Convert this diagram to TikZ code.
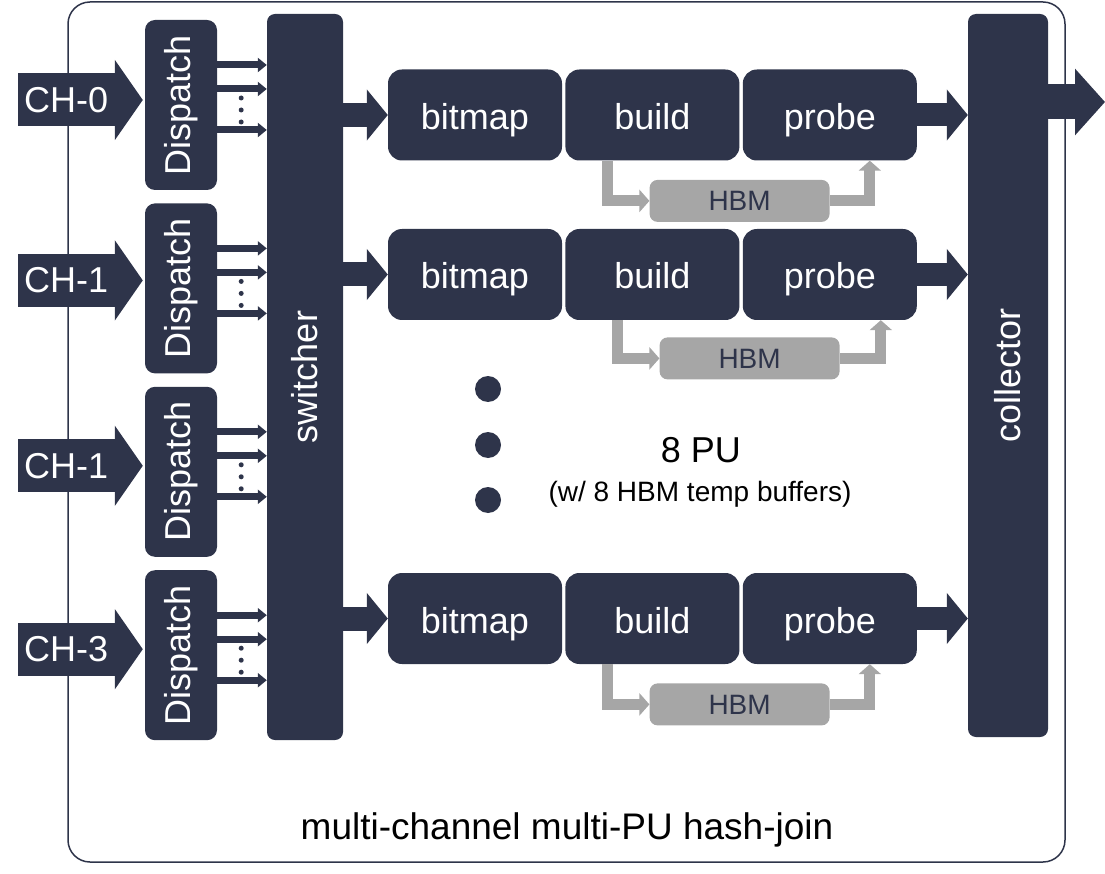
\documentclass[tikz,border=0pt]{standalone}
\usepackage{fontspec}
\setmainfont{Liberation Sans}
\usetikzlibrary{arrows.meta,positioning,calc}
\definecolor{navy}{RGB}{46,52,74}
\definecolor{hbmgray}{RGB}{166,166,166}
\newcommand{\setfs}[1]{\fontsize{#1}{#1}\selectfont}

\begin{document}
\begin{tikzpicture}[x=1pt,y=-1pt,node distance=3pt,
  darkbox/.style={fill=navy,text=white,inner sep=0pt},
  rotlabel/.style={rotate=90,text=white,font=\setfs{36}},
  dispbox/.style={darkbox,rounded corners=10pt,minimum width=72pt,minimum height=170pt},
  tallbar/.style={darkbox,rounded corners=8pt},
  pu/.style={darkbox,rounded corners=14pt,minimum width=174pt,minimum height=91pt,
             text height=29pt,text depth=0pt,font=\setfs{36}},
  hbm/.style={fill=hbmgray,text=navy,rounded corners=8pt,minimum width=180pt,minimum height=42pt,inner sep=0pt,font=\setfs{28}},
  chbody/.style={darkbox,minimum width=97pt,minimum height=53pt,font=\setfs{36}},
  chhead/.style={draw=navy,line width=53pt,-{Triangle[width=79pt,length=28pt]}},
  fatarrow/.style={draw=navy,line width=24pt,-{Triangle[width=50pt,length=21pt]}},
  subarrow/.style={draw=navy,line width=7pt,-{Triangle[width=14pt,length=9pt]}},
  hbmline/.style={draw=hbmgray,line width=11pt,-{Triangle[width=22pt,length=10pt]}}]
  \useasboundingbox (0,0) rectangle (1105,874);

  % outer frame
  \draw[navy,line width=1.5pt,rounded corners=22pt] (68,2) rectangle (1065,862);

  % dispatch, switcher, collector
  \node[dispbox,label={[rotlabel]center:Dispatch}] (D0) at (181,105) {};
  \node[dispbox,below=13pt of D0,label={[rotlabel]center:Dispatch}] (D1) {};
  \node[dispbox,below=13pt of D1,label={[rotlabel]center:Dispatch}] (D2) {};
  \node[dispbox,below=13pt of D2,label={[rotlabel]center:Dispatch}] (D3) {};
  \node[tallbar,minimum width=76pt,minimum height=726pt,label={[rotlabel]center:switcher}] (sw) at (305,377) {};
  \node[tallbar,minimum width=80pt,minimum height=723pt,label={[rotlabel]center:collector}] (col) at (1008,375.5) {};

  % input channels
  \node[chbody,left=30pt of D0,yshift=5pt] (ch0) {CH-0};
  \node[chbody,left=30pt of D1,yshift=8pt] (ch1) {CH-1};
  \node[chbody,left=30pt of D2,yshift=6pt] (ch2) {CH-1};
  \node[chbody,left=30pt of D3,yshift=6pt] (ch3) {CH-3};
  \draw[chhead] (ch0.east) -- ([xshift=-2pt]ch0.east -| D0.west);
  \draw[chhead] (ch1.east) -- ([xshift=-2pt]ch1.east -| D1.west);
  \draw[chhead] (ch2.east) -- ([xshift=-2pt]ch2.east -| D2.west);
  \draw[chhead] (ch3.east) -- ([xshift=-2pt]ch3.east -| D3.west);

  \foreach \d in {D0,D1,D2,D3}{
    \foreach \dy in {-40,-16,25}
      \draw[subarrow] ($(\d.east)+(0,\dy)$) coordinate (s) -- (s -| sw.west);
    \foreach \dy in {-7,5,17}
      \fill[navy] ($(\d.east)+(24,\dy)$) circle (2.5);
  }

  % processing units
  \node[pu] (bm1) at (475,115) {bitmap};
  \node[pu,right=of bm1] (bd1) {build};
  \node[pu,right=of bd1] (pr1) {probe};
  \node[pu] (bm2) at (475,274.5) {bitmap};
  \node[pu,right=of bm2] (bd2) {build};
  \node[pu,right=of bd2] (pr2) {probe};
  \node[pu] (bm3) at (475,618.5) {bitmap};
  \node[pu,right=of bm3] (bd3) {build};
  \node[pu,right=of bd3] (pr3) {probe};

  \node[hbm,below=19pt of bd1.south east] (hbm1) {HBM};
  \node[hbm,below=17pt of bd2.south east,xshift=10pt] (hbm2) {HBM};
  \node[hbm,below=19pt of bd3.south east] (hbm3) {HBM};

  \draw[hbmline] ([xshift=-45pt]bd1.south) |- (hbm1.west);
  \draw[hbmline] (hbm1.east) -| ([xshift=40pt]pr1.south);
  \draw[hbmline] ([xshift=-35pt]bd2.south) |- (hbm2.west);
  \draw[hbmline] (hbm2.east) -| ([xshift=51pt]pr2.south);
  \draw[hbmline] ([xshift=-45pt]bd3.south) |- (hbm3.west);
  \draw[hbmline] (hbm3.east) -| ([xshift=40pt]pr3.south);

  \draw[fatarrow] (bm1.west -| sw.east) -- (bm1.west);
  \draw[fatarrow] (bm2.west -| sw.east) -- (bm2.west);
  \draw[fatarrow] (bm3.west -| sw.east) -- (bm3.west);
  \draw[fatarrow,line width=23pt] (pr1.east) -- (pr1.east -| col.west);
  \draw[fatarrow,line width=23pt] (pr2.east) -- (pr2.east -| col.west);
  \draw[fatarrow,line width=23pt] (pr3.east) -- (pr3.east -| col.west);

  % output
  \coordinate (out) at (1105,102);
  \draw[navy,line width=35pt,-{Triangle[width=65pt,length=30pt]}] (col.east |- out) -- (out);

  % more PUs
  \fill[navy] (488,389) circle (13) (488,445) circle (13) (488,500) circle (13);
  \node[font=\setfs{36}] (pu) at (701,450) {8 PU};
  \node[font=\setfs{28}] (buf) at (700,494) {(w/ 8 HBM temp buffers)};

  \node[font=\setfs{37}] (title) at (567,830) {multi-channel multi-PU hash-join};
\end{tikzpicture}
\end{document}
